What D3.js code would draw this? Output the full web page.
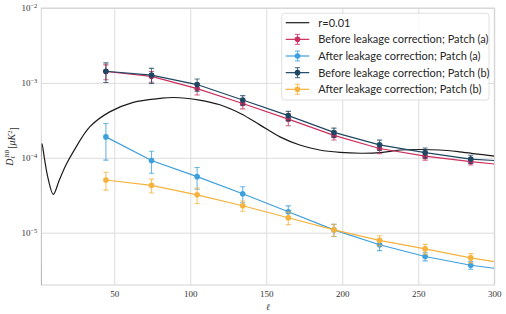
<!DOCTYPE html>
<html>
<head>
<meta charset="utf-8">
<script src="https://cdn.jsdelivr.net/npm/d3@7"></script>
<style>
  html, body { margin: 0; padding: 0; background: #fff; }
  svg { display: block; }
  .tick text { font-family: "Liberation Serif", "DejaVu Serif", serif; font-size: 9px; fill: #333; }
</style>
</head>
<body>
<div id="chart"></div>
<script>
"use strict";

// multipole bins of the band powers
const binEll = [44.5, 74.5, 104.5, 134.5, 164.5, 194.5, 224.5, 254.5, 284.5];

// Before / after leakage correction, patch (a) and (b), with 1-sigma errors
const beforeA    = [1.42e-3, 1.22e-3, 8.4e-4, 5.3e-4, 3.28e-4, 1.99e-4, 1.33e-4, 1.05e-4, 8.9e-5];
const beforeAErr = [3.2e-4, 2.0e-4, 1.5e-4, 8e-5, 6e-5, 2.6e-5, 2e-5, 1.2e-5, 9e-6];
const afterA     = [1.9e-4, 9.2e-5, 5.6e-5, 3.31e-5, 1.9e-5, 1.09e-5, 6.9e-6, 4.8e-6, 3.67e-6];
const afterAErr  = [9.7e-5, 3.0e-5, 1.8e-5, 8e-6, 3.8e-6, 2e-6, 1.15e-6, 6e-7, 4.3e-7];
const beforeB    = [1.43e-3, 1.27e-3, 9.5e-4, 5.9e-4, 3.65e-4, 2.18e-4, 1.49e-4, 1.17e-4, 9.6e-5];
const beforeBErr = [4.2e-4, 2.9e-4, 1.75e-4, 8.5e-5, 5.2e-5, 3.1e-5, 2.3e-5, 1.8e-5, 1.2e-5];
const afterB     = [5.05e-5, 4.28e-5, 3.2e-5, 2.29e-5, 1.58e-5, 1.09e-5, 7.9e-6, 6.07e-6, 4.6e-6];
const afterBErr  = [1.35e-5, 9e-6, 7.5e-6, 3.6e-6, 3e-6, 2e-6, 1.2e-6, 9e-7, 6.5e-7];

// where each connecting line ends (right edge, ell = 300)
const edgeEll = 300;
const edgeValues = [8.25e-5, 3.35e-6, 9.2e-5, 4.1e-6];

// theory curve r = 0.01
const rEll = [2, 2.4, 3.9, 6.2, 9.9, 13.8, 18.2, 23, 34, 47, 62.5, 80, 89, 106, 119.5, 133, 146, 159, 172, 185, 198.5, 212, 225, 238, 251, 264, 277, 300];
const rDl  = [1e-7, 1.55e-4, 1.03e-4, 5.6e-5, 3.25e-5, 5.0e-5, 8.0e-5, 1.2e-4, 2.6e-4, 4.1e-4, 5.5e-4, 6.2e-4, 6.38e-4, 5.9e-4, 5.1e-4, 3.9e-4, 2.73e-4, 1.9e-4, 1.48e-4, 1.27e-4, 1.18e-4, 1.15e-4, 1.17e-4, 1.27e-4, 1.29e-4, 1.27e-4, 1.2e-4, 1.05e-4];

const xTicks = [50, 100, 150, 200, 250, 300];
const yTicks = [1e-5, 1e-4, 1e-3, 1e-2];

const seriesNames = [
  "Before leakage correction; Patch (a)",
  "After leakage correction; Patch (a)",
  "Before leakage correction; Patch (b)",
  "After leakage correction; Patch (b)"
];
const seriesColors = ["#cc2f5e", "#3d9fdb", "#1e4763", "#f6b23c"];
const seriesValues = [beforeA, afterA, beforeB, afterB];
const seriesErrors = [beforeAErr, afterAErr, beforeBErr, afterBErr];

const W = 506, H = 314;
const plotL = 41.3, plotR = 494.3, plotT = 8, plotB = 285;

const svg = d3.select("#chart").append("svg")
  .attr("width", W).attr("height", H);

const x = d3.scaleLinear().domain([2, 300]).range([plotL, plotR]);
const y = d3.scaleLog().domain([2e-6, 1e-2]).range([plotB, plotT]);

svg.append("clipPath").attr("id", "plotclip")
  .append("rect")
  .attr("x", plotL).attr("y", plotT)
  .attr("width", plotR - plotL).attr("height", plotB - plotT);

// grid + axes
const gx = svg.append("g")
  .attr("transform", "translate(0," + plotB + ")")
  .call(d3.axisBottom(x).tickValues(xTicks).tickSize(-(plotB - plotT)).tickPadding(6).tickFormat(d3.format("d")));
gx.select(".domain").remove();
gx.selectAll(".tick line").attr("stroke", "#dcdcdc").attr("stroke-width", 1);

const gy = svg.append("g")
  .attr("transform", "translate(" + plotL + ",0)")
  .call(d3.axisLeft(y).tickValues(yTicks).tickSize(-(plotR - plotL)).tickPadding(5).tickFormat(""));
gy.select(".domain").remove();
gy.selectAll(".tick line").attr("stroke", "#dcdcdc").attr("stroke-width", 1);

// 10^n labels with superscript
gy.selectAll(".tick").each(function(d) {
  const t = d3.select(this).append("text")
    .attr("x", -4).attr("dy", "0.32em")
    .attr("text-anchor", "end");
  t.append("tspan").text("10");
  t.append("tspan").attr("dy", "-0.45em").attr("font-size", "6.5px")
    .text("\u2212" + Math.round(-Math.log10(d)));
});

// frame
svg.append("rect")
  .attr("x", plotL).attr("y", plotT)
  .attr("width", plotR - plotL).attr("height", plotB - plotT)
  .attr("fill", "none").attr("stroke", "#d4d4d4").attr("stroke-width", 1);

const plot = svg.append("g").attr("clip-path", "url(#plotclip)");

// theory curve
const rLine = d3.line()
  .x((d, i) => x(rEll[i]))
  .y(d => y(d))
  .curve(d3.curveCatmullRom.alpha(0.5));

plot.append("path")
  .datum(rDl)
  .attr("d", rLine)
  .attr("fill", "none")
  .attr("stroke", "#1a1a1a")
  .attr("stroke-width", 1.2);

// error-bar series
const capW = 2.6;
seriesValues.forEach((vals, s) => {
  const col = seriesColors[s];
  const errs = seriesErrors[s];
  const pts = vals.map((v, i) => [binEll[i], v]).concat([[edgeEll, edgeValues[s]]]);
  const g = plot.append("g");

  g.append("path")
    .datum(pts)
    .attr("d", d3.line().x(d => x(d[0])).y(d => y(d[1])))
    .attr("fill", "none")
    .attr("stroke", col)
    .attr("stroke-width", 1.2);

  const eb = g.selectAll(".eb")
    .data(vals.map((v, i) => ({ ell: binEll[i], v: v, e: errs[i] })))
    .enter().append("g")
    .attr("stroke", col).attr("stroke-opacity", 0.75).attr("stroke-width", 1.1);
  eb.append("line")
    .attr("x1", d => x(d.ell)).attr("x2", d => x(d.ell))
    .attr("y1", d => y(d.v + d.e)).attr("y2", d => y(d.v - d.e));
  eb.append("line")
    .attr("x1", d => x(d.ell) - capW).attr("x2", d => x(d.ell) + capW)
    .attr("y1", d => y(d.v + d.e)).attr("y2", d => y(d.v + d.e));
  eb.append("line")
    .attr("x1", d => x(d.ell) - capW).attr("x2", d => x(d.ell) + capW)
    .attr("y1", d => y(d.v - d.e)).attr("y2", d => y(d.v - d.e));

  g.selectAll("circle")
    .data(vals)
    .enter().append("circle")
    .attr("cx", (d, i) => x(binEll[i]))
    .attr("cy", d => y(d))
    .attr("r", 2.8)
    .attr("fill", col);
});

// axis labels
svg.append("text")
  .attr("x", (plotL + plotR) / 2).attr("y", 310)
  .attr("text-anchor", "middle")
  .attr("font-family", "Liberation Serif, DejaVu Serif, serif")
  .attr("font-style", "italic").attr("font-size", "9px").attr("fill", "#333")
  .text("\u2113");

const yl = svg.append("text")
  .attr("transform", "translate(13," + ((plotT + plotB) / 2) + ") rotate(-90)")
  .attr("text-anchor", "middle")
  .attr("font-family", "Liberation Serif, DejaVu Serif, serif")
  .attr("font-size", "10px").attr("fill", "#333");
yl.append("tspan").attr("font-style", "italic").text("D");
yl.append("tspan").attr("font-size", "6.5px").attr("font-style", "italic").attr("dy", "0.3em").text("\u2113");
yl.append("tspan").attr("font-size", "6.5px").attr("font-style", "italic").attr("dy", "-0.95em").attr("dx", "-2px").text("BB");
yl.append("tspan").attr("dy", "0.65em").attr("dx", "1px").text("[");
yl.append("tspan").attr("font-style", "italic").text("\u03bcK");
yl.append("tspan").attr("font-size", "6.5px").attr("dy", "-0.45em").text("2");
yl.append("tspan").attr("dy", "0.45em").text("]");

// legend
const lg = svg.append("g");
lg.append("rect")
  .attr("x", 281.7).attr("y", 13.3)
  .attr("width", 207.3).attr("height", 86.7)
  .attr("rx", 3)
  .attr("fill", "#fff").attr("fill-opacity", 0.85)
  .attr("stroke", "#d8d8d8").attr("stroke-width", 0.8);

const rowY = d3.scalePoint().domain(d3.range(5)).range([22.7, 89.3]);
const labels = ["r=0.01"].concat(seriesNames);
const colors = ["#1a1a1a"].concat(seriesColors);

labels.forEach((lab, i) => {
  const yy = rowY(i);
  const row = lg.append("g");
  row.append("line")
    .attr("x1", 285.7).attr("x2", 309.3).attr("y1", yy).attr("y2", yy)
    .attr("stroke", colors[i]).attr("stroke-width", 1.2);
  if (i > 0) {
    const eg = row.append("g").attr("stroke", colors[i]).attr("stroke-opacity", 0.75).attr("stroke-width", 1.1);
    eg.append("line").attr("x1", 297.5).attr("x2", 297.5).attr("y1", yy - 5).attr("y2", yy + 5);
    eg.append("line").attr("x1", 297.5 - capW).attr("x2", 297.5 + capW).attr("y1", yy - 5).attr("y2", yy - 5);
    eg.append("line").attr("x1", 297.5 - capW).attr("x2", 297.5 + capW).attr("y1", yy + 5).attr("y2", yy + 5);
    row.append("circle").attr("cx", 297.5).attr("cy", yy).attr("r", 2.8).attr("fill", colors[i]);
  }
  row.append("text")
    .attr("x", 318.3).attr("y", yy).attr("dy", "0.35em")
    .attr("font-family", "Lato, 'Open Sans', sans-serif")
    .attr("font-size", "11px").attr("fill", "#262626")
    .text(lab);
});
</script>
</body>
</html>
